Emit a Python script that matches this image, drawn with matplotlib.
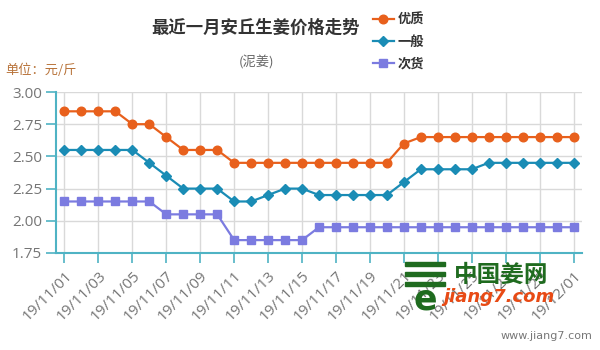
import matplotlib
matplotlib.use("Agg")
import matplotlib.pyplot as plt
from matplotlib.patches import Rectangle

plt.rcParams['font.family'] = ['Noto Sans CJK SC', 'DejaVu Sans']

dates = ["19/11/%02d" % d for d in range(1, 31)] + ["19/12/01"]
premium = [2.85, 2.85, 2.85, 2.85, 2.75, 2.75, 2.65, 2.55, 2.55, 2.55,
           2.45, 2.45, 2.45, 2.45, 2.45, 2.45, 2.45, 2.45, 2.45, 2.45,
           2.60, 2.65, 2.65, 2.65, 2.65, 2.65, 2.65, 2.65, 2.65, 2.65, 2.65]
regular = [2.55, 2.55, 2.55, 2.55, 2.55, 2.45, 2.35, 2.25, 2.25, 2.25,
           2.15, 2.15, 2.20, 2.25, 2.25, 2.20, 2.20, 2.20, 2.20, 2.20,
           2.30, 2.40, 2.40, 2.40, 2.40, 2.45, 2.45, 2.45, 2.45, 2.45, 2.45]
inferior = [2.15, 2.15, 2.15, 2.15, 2.15, 2.15, 2.05, 2.05, 2.05, 2.05,
            1.85, 1.85, 1.85, 1.85, 1.85, 1.95, 1.95, 1.95, 1.95, 1.95,
            1.95, 1.95, 1.95, 1.95, 1.95, 1.95, 1.95, 1.95, 1.95, 1.95, 1.95]
series_names = ["优质", "一般", "次货"]
y_ticks = [1.75, 2.00, 2.25, 2.50, 2.75, 3.00]

C_ORANGE = "#e8601c"
C_TEAL = "#1a8cb5"
C_PURPLE = "#7b7be0"
C_AXIS = "#4fb3c4"
TICK_FONT = ['Open Sans', 'DejaVu Sans']

fig = plt.figure(figsize=(6, 3.5), dpi=100)
ax = fig.add_axes([56/600, 1-253/350, (582-56)/600, (253-92)/350])

x = list(range(len(dates)))
ax.plot(x, premium, color=C_ORANGE, lw=1.6, marker='o', ms=6.2, label=series_names[0], zorder=3)
ax.plot(x, regular, color=C_TEAL, lw=1.6, marker='D', ms=4.6, label=series_names[1], zorder=3)
ax.plot(x, inferior, color=C_PURPLE, lw=1.6, marker='s', ms=5.6, label=series_names[2], zorder=3)

ax.set_xlim(-0.5, len(dates) - 0.5)
ax.set_ylim(1.75, 3.00)
ax.set_yticks(y_ticks)
ax.set_yticklabels(["%.2f" % v for v in y_ticks], family=TICK_FONT,
                   fontsize=11, color="#757575")
tick_idx = x[::2]
ax.set_xticks(tick_idx)
ax.set_xticklabels([dates[i] for i in tick_idx], rotation=45, ha='right', va='top',
                   rotation_mode='anchor', family=TICK_FONT,
                   fontsize=11, color="#757575")
ax.tick_params(axis='both', direction='out', length=7, width=1.2, color=C_AXIS, pad=3)
ax.tick_params(axis='x', pad=4)

ax.grid(True, color="#d9d9d9", lw=1)
ax.set_axisbelow(True)
for s in ("top", "right"):
    ax.spines[s].set_visible(False)
for s in ("left", "bottom"):
    ax.spines[s].set_color(C_AXIS)
    ax.spines[s].set_linewidth(1.5)

fig.text(256/600, 1-28/350, "最近一月安丘生姜价格走势", ha='center', va='center',
         fontsize=12.5, fontweight='bold', color="#333333")
fig.text(256/600, 1-63/350, "(泥姜)", ha='center', va='center',
         fontsize=9.5, color="#666666")
fig.text(5/600, 1-70/350, "单位：元/斤", ha='left', va='center',
         fontsize=9.5, color="#b8733a")

fig.legend(loc='upper left', bbox_to_anchor=(361/600, 1-1/350), frameon=False,
           handlelength=1.6, handletextpad=0.3, labelspacing=0.6,
           prop={'size': 9.5, 'weight': 'bold'}, labelcolor="#333333")

# site logo
GREEN = "#1f6b1f"
for yy in (264, 274, 284):
    fig.patches.append(Rectangle((405/600, 1-(yy+2)/350), 40/600, 4/350,
                                 transform=fig.transFigure, color=GREEN, zorder=5))
fig.text(425/600, 1-299/350, "e", ha='center', va='center', fontsize=25,
         fontweight='bold', color=GREEN, family=['DejaVu Sans'], zorder=6)
fig.text(501/600, 1-275/350, "中国姜网", ha='center', va='center', fontsize=17,
         fontweight='bold', color=GREEN, zorder=6)
fig.text(499/600, 1-297/350, "jiang7.com", ha='center', va='center', fontsize=13,
         fontweight='bold', style='italic', color="#e84a14",
         family=['DejaVu Sans'], zorder=6)
fig.text(592/600, 1-336/350, "www.jiang7.com", ha='right', va='center', fontsize=8,
         color="#777777", family=['DejaVu Sans'])

fig.savefig("out.png", dpi=100)
